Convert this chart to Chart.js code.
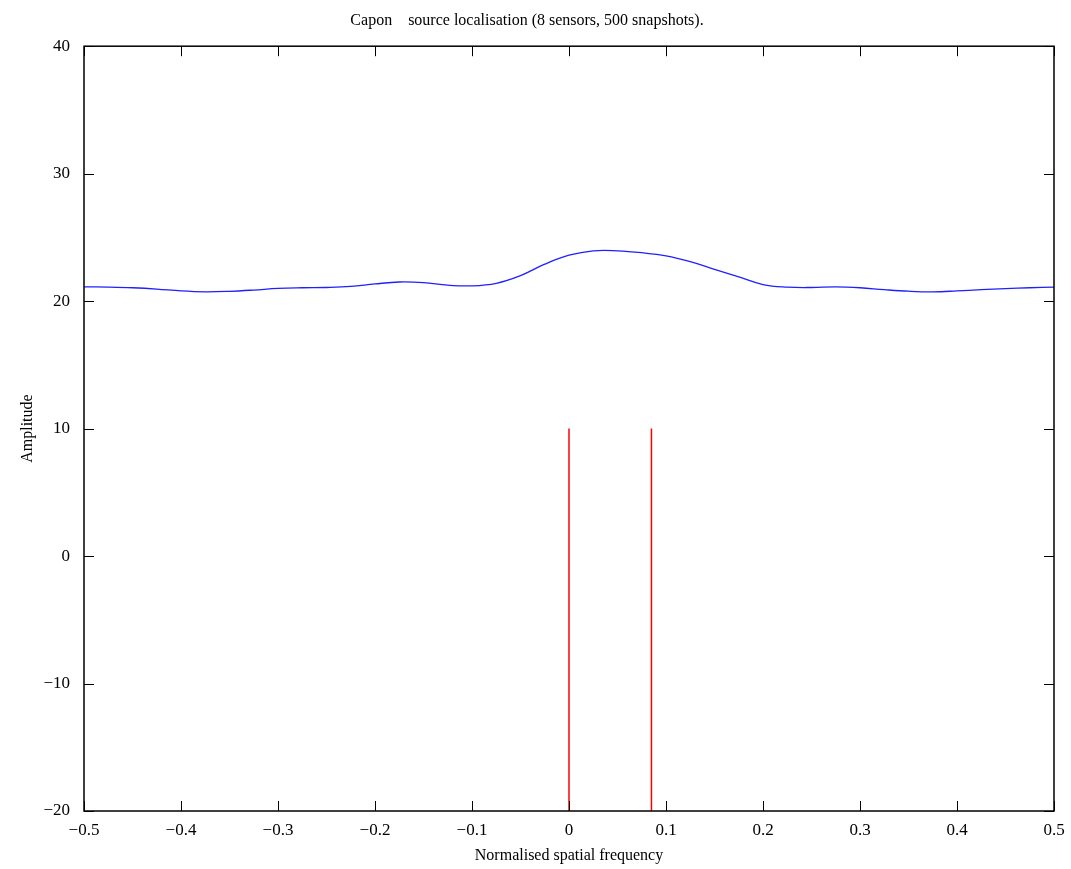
<!DOCTYPE html>
<html lang="en">
  <head>
    <meta charset="utf-8" />
    <title>Capon source localisation</title>
    <style>
      * { margin: 0; padding: 0; }
      body { background: #fff; }
      .chartBox { width: 1071px; height: 869px; }
    </style>
  </head>
  <body>
    <div class="chartBox">
      <canvas id="myChart"></canvas>
    </div>
    <script src="https://cdn.jsdelivr.net/npm/chart.js"></script>
    <script>
      // spectrum (normalised spatial frequency vs amplitude)
      const freq = [
        -0.5, -0.475, -0.45, -0.425, -0.4, -0.375, -0.35, -0.325, -0.3, -0.275,
        -0.25, -0.225, -0.2, -0.175, -0.15, -0.125, -0.1, -0.075, -0.05, -0.025,
        0, 0.025, 0.05, 0.075, 0.1, 0.125, 0.15, 0.175, 0.2, 0.225,
        0.25, 0.275, 0.3, 0.325, 0.35, 0.375, 0.4, 0.425, 0.45, 0.475, 0.5,
      ];
      const amplitude = [
        21.12, 21.1, 21.05, 20.95, 20.8, 20.73, 20.77, 20.87, 21.0, 21.05,
        21.07, 21.15, 21.35, 21.5, 21.45, 21.25, 21.2, 21.4, 22.0, 22.9,
        23.6, 23.95, 23.95, 23.8, 23.55, 23.1, 22.5, 21.9, 21.3, 21.1,
        21.07, 21.12, 21.05, 20.9, 20.78, 20.73, 20.8, 20.9, 20.98, 21.05, 21.1,
      ];
      // true source positions (red markers)
      const sources = [0, 0.085];
      const sourceLow = -20;
      const sourceHigh = 10;

      const xTicks = [-0.5, -0.4, -0.3, -0.2, -0.1, 0, 0.1, 0.2, 0.3, 0.4, 0.5];
      const yTicks = [-20, -10, 0, 10, 20, 30, 40];

      const serif = 'Liberation Serif';
      const fmt = (v) => String(v).replace('-', '\u2212');

      const datasets = [
        {
          data: freq.map((f, i) => ({ x: f, y: amplitude[i] })),
          borderColor: '#2020ff',
          borderWidth: 1.3,
          pointRadius: 0,
          showLine: true,
          tension: 0.4,
        },
      ];
      sources.forEach((s) => {
        datasets.push({
          data: [{ x: s, y: sourceLow }, { x: s, y: sourceHigh }],
          borderColor: '#ff0000',
          borderWidth: 1.5,
          pointRadius: 0,
          showLine: true,
        });
      });

      // MATLAB-like box with inward ticks on all four sides
      const boxPlugin = {
        id: 'box',
        afterDatasetsDraw(chart) {
          const { ctx, chartArea: a, scales } = chart;
          ctx.save();
          ctx.strokeStyle = '#000';
          ctx.lineWidth = 1.5;
          ctx.strokeRect(a.left, a.top, a.right - a.left, a.bottom - a.top);
          ctx.lineWidth = 1;
          ctx.beginPath();
          xTicks.forEach((t) => {
            const px = Math.round(scales.x.getPixelForValue(t)) + 0.5;
            ctx.moveTo(px, a.bottom); ctx.lineTo(px, a.bottom - 10);
            ctx.moveTo(px, a.top); ctx.lineTo(px, a.top + 10);
          });
          yTicks.forEach((t) => {
            const py = Math.round(scales.y.getPixelForValue(t)) + 0.5;
            ctx.moveTo(a.left, py); ctx.lineTo(a.left + 10, py);
            ctx.moveTo(a.right, py); ctx.lineTo(a.right - 10, py);
          });
          ctx.stroke();
          ctx.restore();
        },
      };

      const config = {
        type: 'scatter',
        data: { datasets },
        options: {
          responsive: true,
          maintainAspectRatio: false,
          animation: false,
          layout: { padding: { left: 0, right: 17, top: 0, bottom: 0 } },
          plugins: {
            legend: { display: false },
            tooltip: { enabled: false },
            title: {
              display: true,
              text: 'Capon    source localisation (8 sensors, 500 snapshots).',
              color: '#000',
              font: { family: serif, size: 16, weight: 'normal' },
              padding: { top: 11, bottom: 16 },
            },
          },
          scales: {
            x: {
              type: 'linear',
              min: -0.5,
              max: 0.5,
              afterBuildTicks: (s) => { s.ticks = xTicks.map((v) => ({ value: v })); },
              afterFit: (s) => { s.height = 58; },
              ticks: {
                color: '#000',
                font: { family: serif, size: 17 },
                padding: 1,
                maxRotation: 0,
                callback: (v) => fmt(v),
              },
              grid: { display: false },
              border: { display: false },
              title: {
                display: true,
                text: 'Normalised spatial frequency',
                color: '#000',
                font: { family: serif, size: 16 },
                padding: { top: 3 },
              },
            },
            y: {
              min: -20,
              max: 40,
              afterBuildTicks: (s) => { s.ticks = yTicks.map((v) => ({ value: v })); },
              afterFit: (s) => { s.width = 84; },
              ticks: {
                color: '#000',
                font: { family: serif, size: 17 },
                padding: 6,
                callback: (v) => fmt(v),
              },
              grid: { display: false },
              border: { display: false },
              title: {
                display: true,
                text: 'Amplitude',
                color: '#000',
                font: { family: serif, size: 16 },
                padding: { top: 18, bottom: 0 },
              },
            },
          },
        },
        plugins: [boxPlugin],
      };

      const myChart = new Chart(document.getElementById('myChart'), config);
    </script>
  </body>
</html>
